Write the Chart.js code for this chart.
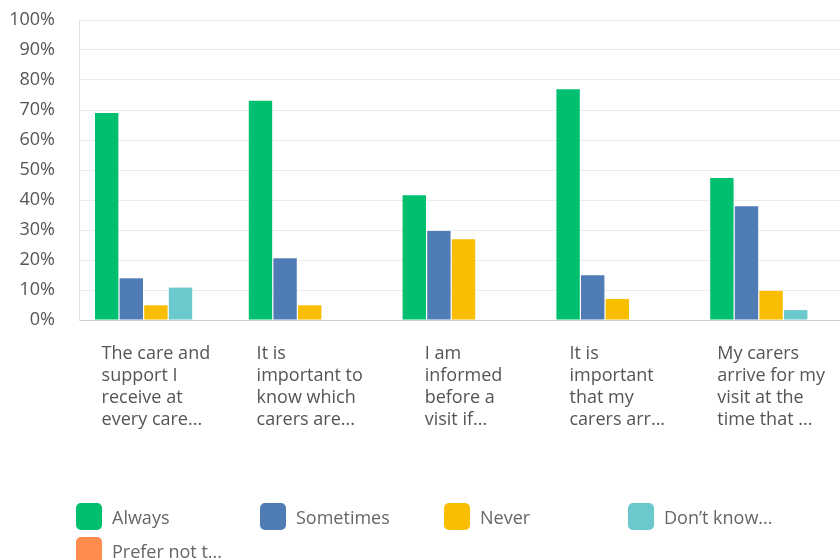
<!DOCTYPE html>
<html>
<head>
<meta charset="utf-8">
<script src="https://cdn.jsdelivr.net/npm/chart.js@4/dist/chart.umd.min.js"></script>
<style>
  html, body { margin: 0; padding: 0; background: #fff; width: 840px; height: 560px; overflow: hidden; }
  #wrap { position: absolute; left: 0; top: 0; width: 850px; height: 460px; }
  #legend { position: absolute; left: 0; top: 0; width: 840px; height: 560px; pointer-events: none; font-family: "Open Sans", sans-serif; }
  .li { position: absolute; display: flex; align-items: center; height: 27px; }
  .li .box { width: 26px; height: 27px; border-radius: 5px; }
  .li .txt { margin-left: 10px; font-size: 18px; color: #666; white-space: nowrap; }
</style>
</head>
<body>
<div id="wrap"><canvas id="c"></canvas></div>
<div id="legend"></div>
<script>
const categories = [
  ["The care and", "support I", "receive at", "every care..."],
  ["It is", "important to", "know which", "carers are..."],
  ["I am", "informed", "before a", "visit if..."],
  ["It is", "important", "that my", "carers arr..."],
  ["My carers", "arrive for my", "visit at the", "time that ..."]
];
const seriesNames = ["Always", "Sometimes", "Never", "Don't know...", "Prefer not t..."];
const legendNames = ["Always", "Sometimes", "Never", "Don’t know...", "Prefer not t..."];
const always     = [69, 73.1, 41.6, 76.9, 47.3];
const sometimes  = [13.9, 20.6, 29.7, 14.9, 37.9];
const never      = [4.9, 4.9, 26.9, 7, 9.7];
const dontKnow   = [10.8, 0, 0, 0, 3.3];
const preferNot  = [0, 0, 0, 0, 0];
const yTicks = [0, 10, 20, 30, 40, 50, 60, 70, 80, 90, 100];

const colors = ["#00bf6f", "#507cb6", "#f9be00", "#6bc8cd", "#ff8b4f"];
const seriesValues = [always, sometimes, never, dontKnow, preferNot];

const shiftLabels = {
  id: 'shiftLabels',
  beforeDraw(chart) {
    const sc = chart.scales.x;
    const items = sc.getLabelItems();
    const ctx = chart.ctx;
    items.forEach(it => {
      if (it._shifted) return;
      ctx.save();
      ctx.font = it.font.string;
      const lines = Array.isArray(it.label) ? it.label : [it.label];
      let w = 0;
      lines.forEach(l => { w = Math.max(w, ctx.measureText(l).width); });
      ctx.restore();
      it.options.translation[0] -= w / 2;
      it._shifted = true;
    });
  }
};

new Chart(document.getElementById('c'), {
  type: 'bar',
  data: {
    labels: categories,
    datasets: seriesNames.map((n, i) => ({
      label: n,
      data: seriesValues[i],
      backgroundColor: colors[i],
      borderWidth: 0,
      categoryPercentage: 0.8,
      barPercentage: 0.95
    }))
  },
  options: {
    responsive: true,
    maintainAspectRatio: false,
    animation: false,
    layout: { padding: { top: 20, right: 2, left: 0, bottom: 0 } },
    plugins: { legend: { display: false }, tooltip: { enabled: false } },
    scales: {
      x: {
        grid: { display: false },
        border: { display: true, color: '#cfcfcf', width: 1 },
        ticks: {
          autoSkip: false,
          maxRotation: 0,
          minRotation: 0,
          align: 'start',
          padding: 15,
          color: '#555',
          font: { family: '"Open Sans", sans-serif', size: 18, lineHeight: '22px' }
        },
        afterFit(scale) { scale.height = 140; scale.paddingLeft = 0; scale.paddingRight = 0; }
      },
      y: {
        min: 0,
        max: 100,
        afterBuildTicks(scale) { scale.ticks = yTicks.map(v => ({ value: v })); },
        grid: { color: '#ececec', drawTicks: false },
        border: { display: true, color: '#e2e2e2' },
        ticks: {
          padding: 24,
          color: '#555',
          font: { family: '"Open Sans", sans-serif', size: 18 },
          callback: v => v + '%'
        },
        afterFit(scale) { scale.width = 79; scale.paddingTop = 0; scale.paddingBottom = 0; }
      }
    }
  },
  plugins: [shiftLabels]
});

const legendPos = [[76, 503], [260, 503], [444, 503], [628, 503], [76, 537]];
const lg = document.getElementById('legend');
legendNames.forEach((n, i) => {
  const d = document.createElement('div');
  d.className = 'li';
  d.style.left = legendPos[i][0] + 'px';
  d.style.top = legendPos[i][1] + 'px';
  d.innerHTML = '<div class="box" style="background:' + colors[i] + '"></div><div class="txt"></div>';
  d.querySelector('.txt').textContent = n;
  lg.appendChild(d);
});
</script>
</body>
</html>
